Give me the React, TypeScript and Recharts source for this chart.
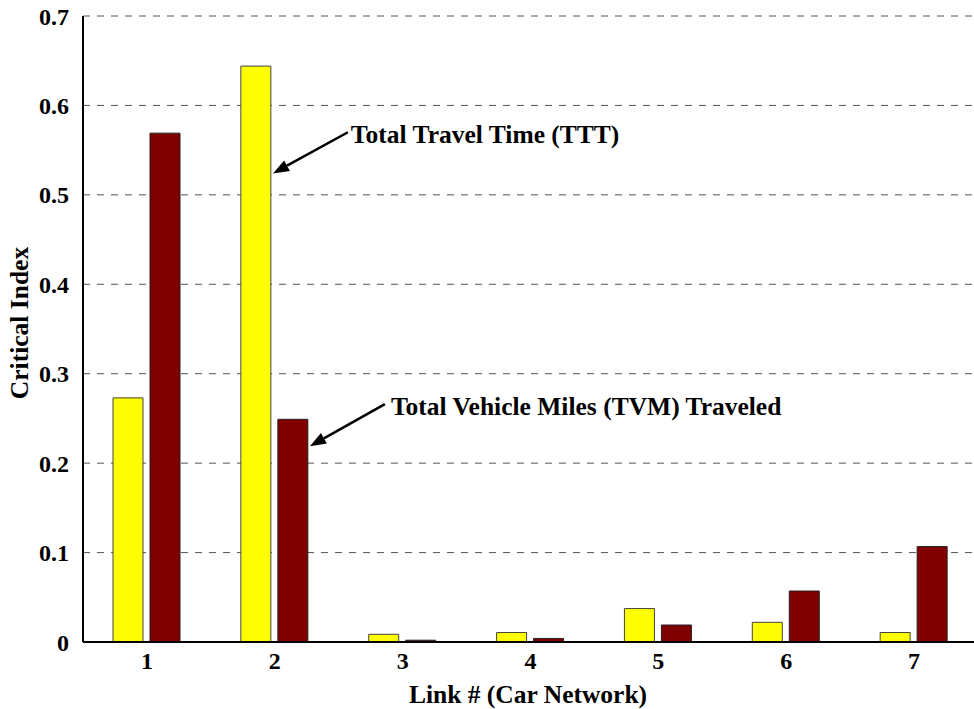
import React from 'react';
import { BarChart, Bar, XAxis, YAxis, CartesianGrid } from 'recharts';

// Critical index per link of the car network
const links = ['1', '2', '3', '4', '5', '6', '7'];
const tttValues = [0.273, 0.644, 0.0086, 0.0106, 0.0374, 0.022, 0.0106];
const tvmValues = [0.569, 0.249, 0.002, 0.004, 0.019, 0.057, 0.1067];
const yTicks = [0, 0.1, 0.2, 0.3, 0.4, 0.5, 0.6, 0.7];

const data = links.map((link, i) => ({ link, ttt: tttValues[i], tvm: tvmValues[i] }));

const FONT = '"Liberation Serif", "Times New Roman", serif';

// layout of the plot box
const W = 1000;
const H = 709;
const M = { top: 16, right: 22, left: 0, bottom: 0 };
const Y_AXIS_W = 83;
const X_AXIS_H = 67;
const plotLeft = M.left + Y_AXIS_W;
const plotTop = M.top;
const plotW = W - plotLeft - M.right;
const plotH = H - M.top - M.bottom - X_AXIS_H;
const Y_MAX = 0.7;

// data coords -> pixels (category units, band = 1)
const px = (c: number) => plotLeft + (c - 0.5) * (plotW / links.length);
const py = (v: number) => plotTop + plotH * (1 - v / Y_MAX);

const notes = [
  { text: 'Total Travel Time (TTT)', tx: 2.595, ty: 0.558, from: [2.572, 0.57], to: [1.986, 0.524] },
  { text: 'Total Vehicle Miles (TVM) Traveled', tx: 2.908, ty: 0.254, from: [2.861, 0.266], to: [2.275, 0.219] },
];

function Arrow({ from, to }: { from: number[]; to: number[] }) {
  const x1 = px(from[0]);
  const y1 = py(from[1]);
  const x2 = px(to[0]);
  const y2 = py(to[1]);
  const ang = Math.atan2(y2 - y1, x2 - x1);
  const len = 16;
  const half = 6;
  const bx = x2 - len * Math.cos(ang);
  const by = y2 - len * Math.sin(ang);
  const p1 = `${bx + half * Math.sin(ang)},${by - half * Math.cos(ang)}`;
  const p2 = `${bx - half * Math.sin(ang)},${by + half * Math.cos(ang)}`;
  return (
    <g>
      <line x1={x1} y1={y1} x2={bx} y2={by} stroke="#000" strokeWidth={2.5} />
      <polygon points={`${x2},${y2} ${p1} ${p2}`} fill="#000" />
    </g>
  );
}

const tickFont = { fill: '#000', fontFamily: FONT, fontWeight: 'bold', fontSize: 24 };

export default function App() {
  return (
    <div style={{ position: 'absolute', left: 0, top: 0, width: 974, height: 709, overflow: 'hidden', background: '#fff' }}>
      <BarChart width={W} height={H} data={data} margin={M} barGap={7} barSize={30}>
        <CartesianGrid vertical={false} stroke="#555" strokeDasharray="7 7" />
        <XAxis
          dataKey="link"
          height={X_AXIS_H}
          axisLine={{ stroke: '#000', strokeWidth: 2 }}
          tickLine={false}
          tickMargin={4}
          tick={tickFont}
        />
        <XAxis
          xAxisId="top"
          dataKey="link"
          orientation="top"
          height={0}
          tick={() => <g />}
          tickSize={-8}
          axisLine={{ stroke: '#000', strokeWidth: 1.5 }}
          tickLine={{ stroke: '#000' }}
        />
        <YAxis
          width={Y_AXIS_W}
          domain={[0, Y_MAX]}
          ticks={yTicks}
          interval={0}
          tickFormatter={(v: number) => (v === 0 ? '0' : v.toFixed(1))}
          axisLine={{ stroke: '#000', strokeWidth: 2 }}
          tickLine={false}
          tickMargin={8}
          tick={tickFont}
        />
        <Bar dataKey="ttt" fill="#ffff00" stroke="#444" strokeWidth={1} isAnimationActive={false} />
        <Bar dataKey="tvm" fill="#800000" stroke="#222" strokeWidth={1} isAnimationActive={false} />
        {notes.map((n) => (
          <g key={n.text}>
            <Arrow from={n.from} to={n.to} />
            <text x={px(n.tx)} y={py(n.ty)} fontFamily={FONT} fontWeight="bold" fontSize={25.5} fill="#000">
              {n.text}
            </text>
          </g>
        ))}
        <text x={528} y={703} textAnchor="middle" fontFamily={FONT} fontWeight="bold" fontSize={25.5} fill="#000">
          Link # (Car Network)
        </text>
        <text
          x={0}
          y={0}
          transform={`translate(28, ${plotTop + plotH / 2 - 6}) rotate(-90)`}
          textAnchor="middle"
          fontFamily={FONT}
          fontWeight="bold"
          fontSize={25.5}
          fill="#000"
        >
          Critical Index
        </text>
      </BarChart>
    </div>
  );
}
